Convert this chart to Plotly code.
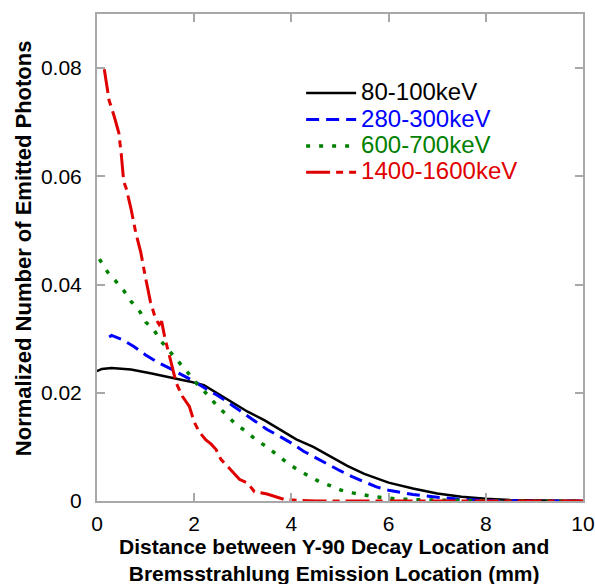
import plotly.graph_objects as go

# ---- data ----
series_names = ["80-100keV", "280-300keV", "600-700keV", "1400-1600keV"]
series_colors = ["#000000", "#0000ff", "#008000", "#e00000"]

x_80_100 = [0.0, 0.1, 0.3, 0.7, 1.1, 1.5, 1.9, 2.2, 2.4, 2.75, 3.1, 3.45, 3.8, 4.1, 4.45,
            4.8, 5.15, 5.5, 6.0, 6.5, 7.0, 7.5, 8.0, 8.5, 9.0, 9.5, 10.0]
y_80_100 = [0.0240, 0.0244, 0.0246, 0.0243, 0.0236, 0.0229, 0.0221, 0.0214, 0.0203, 0.0185,
            0.0165, 0.0149, 0.0130, 0.0114, 0.0100, 0.0082, 0.0065, 0.0050, 0.0034, 0.0023,
            0.0014, 0.0008, 0.0004, 0.0002, 0.0001, 0.0000, 0.0000]

x_280_300 = [0.25, 0.3, 0.5, 0.75, 1.0, 1.25, 1.5, 1.75, 2.0, 2.25, 2.5, 2.75, 3.0, 3.25, 3.5,
             3.75, 4.0, 4.25, 4.5, 4.75, 5.0, 5.25, 5.5, 5.75, 6.0, 6.5, 7.0, 7.5, 8.0, 8.5,
             9.0, 9.5, 10.0]
y_280_300 = [0.0303, 0.0306, 0.0299, 0.0286, 0.0270, 0.0256, 0.0245, 0.0233, 0.0221, 0.0207,
             0.0194, 0.0179, 0.0163, 0.0148, 0.0132, 0.0120, 0.0107, 0.0092, 0.0080, 0.0067,
             0.0056, 0.0045, 0.0036, 0.0026, 0.0020, 0.0012, 0.0007, 0.0003, 0.0001, 0.0000,
             0.0000, 0.0000, 0.0000]

x_600_700 = [0.05, 0.22, 0.39, 0.55, 0.70, 0.89, 1.01, 1.17, 1.33, 1.52, 1.71, 1.89, 2.07, 2.28,
             2.47, 2.67, 2.86, 3.05, 3.27, 3.48, 3.70, 3.92, 4.14, 4.37, 4.57, 4.81, 5.02, 5.26,
             5.47, 5.70, 6.15, 6.70, 7.50, 8.00, 9.00, 10.0]
y_600_700 = [0.0447, 0.0423, 0.0406, 0.0389, 0.0369, 0.0349, 0.0330, 0.0316, 0.0294, 0.0273,
             0.0254, 0.0235, 0.0215, 0.0196, 0.0176, 0.0159, 0.0141, 0.0130, 0.0113, 0.0101,
             0.0085, 0.0070, 0.0057, 0.0045, 0.0036, 0.0028, 0.0020, 0.0015, 0.0012, 0.0008,
             0.0004, 0.0002, 0.0001, 0.0000, 0.0000, 0.0000]

x_1400_1600 = [0.15, 0.25, 0.35, 0.45, 0.50, 0.55, 0.60, 0.70, 0.80, 0.90, 1.00, 1.10, 1.20,
               1.28, 1.33, 1.40, 1.50, 1.63, 1.76, 1.90, 2.00, 2.10, 2.24, 2.35, 2.45, 2.55,
               2.76, 2.93, 3.10, 3.24, 3.50, 3.85, 4.20, 4.50, 10.0]
y_1400_1600 = [0.0798, 0.0740, 0.0712, 0.0680, 0.0640, 0.0590, 0.0578, 0.0540, 0.0495, 0.0460,
               0.0412, 0.0368, 0.0338, 0.0326, 0.0332, 0.0300, 0.0265, 0.0218, 0.0193, 0.0175,
               0.0146, 0.0128, 0.0113, 0.0105, 0.0095, 0.0077, 0.0057, 0.0040, 0.0033, 0.0017,
               0.0013, 0.0003, 0.0001, 0.0000, 0.0000]

x_tick_vals = [0, 2, 4, 6, 8, 10]
y_tick_vals = [0, 0.02, 0.04, 0.06, 0.08]
y_tick_text = ["0", "0.02", "0.04", "0.06", "0.08"]

x_title = "<b>Distance between Y-90 Decay Location and<br>Bremsstrahlung Emission Location (mm)</b>"
y_title = "<b>Normalized Number of Emitted Photons</b>"

FONT = "Liberation Sans, Arial, sans-serif"

xs = [x_80_100, x_280_300, x_600_700, x_1400_1600]
ys = [y_80_100, y_280_300, y_600_700, y_1400_1600]
dashes = ["solid", "13px,7px", "4px,9px", "24px,6px,7px,6px"]
widths = [2.5, 3, 3.5, 3]

fig = go.Figure()
for name, col, x, y, d, w in zip(series_names, series_colors, xs, ys, dashes, widths):
    fig.add_trace(go.Scatter(
        x=x, y=y, mode="lines",
        name=f"<span style='color:{col};font-size:24px'>{name}</span>",
        line=dict(color=col, width=w, dash=d),
        hoverinfo="skip",
    ))

axis_common = dict(
    showline=True, linecolor="#a8a8a8", linewidth=2, mirror="ticks",
    ticks="inside", ticklen=8, tickwidth=2, tickcolor="#a8a8a8",
    showgrid=False, zeroline=False, automargin=False,
    tickfont=dict(family=FONT, size=21, color="black"),
)

fig.update_xaxes(range=[0, 10], tickvals=x_tick_vals, ticklabelstandoff=3, **axis_common)
fig.update_yaxes(range=[0, 0.09], tickvals=y_tick_vals, ticktext=y_tick_text,
                 ticklabelstandoff=9, **axis_common)

fig.add_annotation(text=x_title, xref="paper", yref="paper", x=0.4877, y=-0.1211,
                   xanchor="center", yanchor="middle", showarrow=False,
                   font=dict(family=FONT, size=21, color="black"))
fig.add_annotation(text=y_title, xref="paper", yref="paper", x=-0.152, y=0.5195,
                   xanchor="center", yanchor="middle", showarrow=False, textangle=-90,
                   font=dict(family=FONT, size=22, color="black"))

fig.update_layout(
    width=595, height=584,
    margin=dict(l=97, r=12, t=14, b=83, autoexpand=False),
    paper_bgcolor="white", plot_bgcolor="white",
    font=dict(family=FONT, color="black"),
    showlegend=True,
    legend=dict(x=0.42, y=0.875, xanchor="left", yanchor="top",
                bgcolor="rgba(0,0,0,0)", font=dict(family=FONT, size=18),
                itemwidth=50, tracegroupgap=0),
)

# remove the browser's default page margin so the 595x584 figure fills the window
fig.write_html("out.html", config={"displayModeBar": False},
               post_script="document.body.style.margin='0';document.body.style.overflow='hidden';")
